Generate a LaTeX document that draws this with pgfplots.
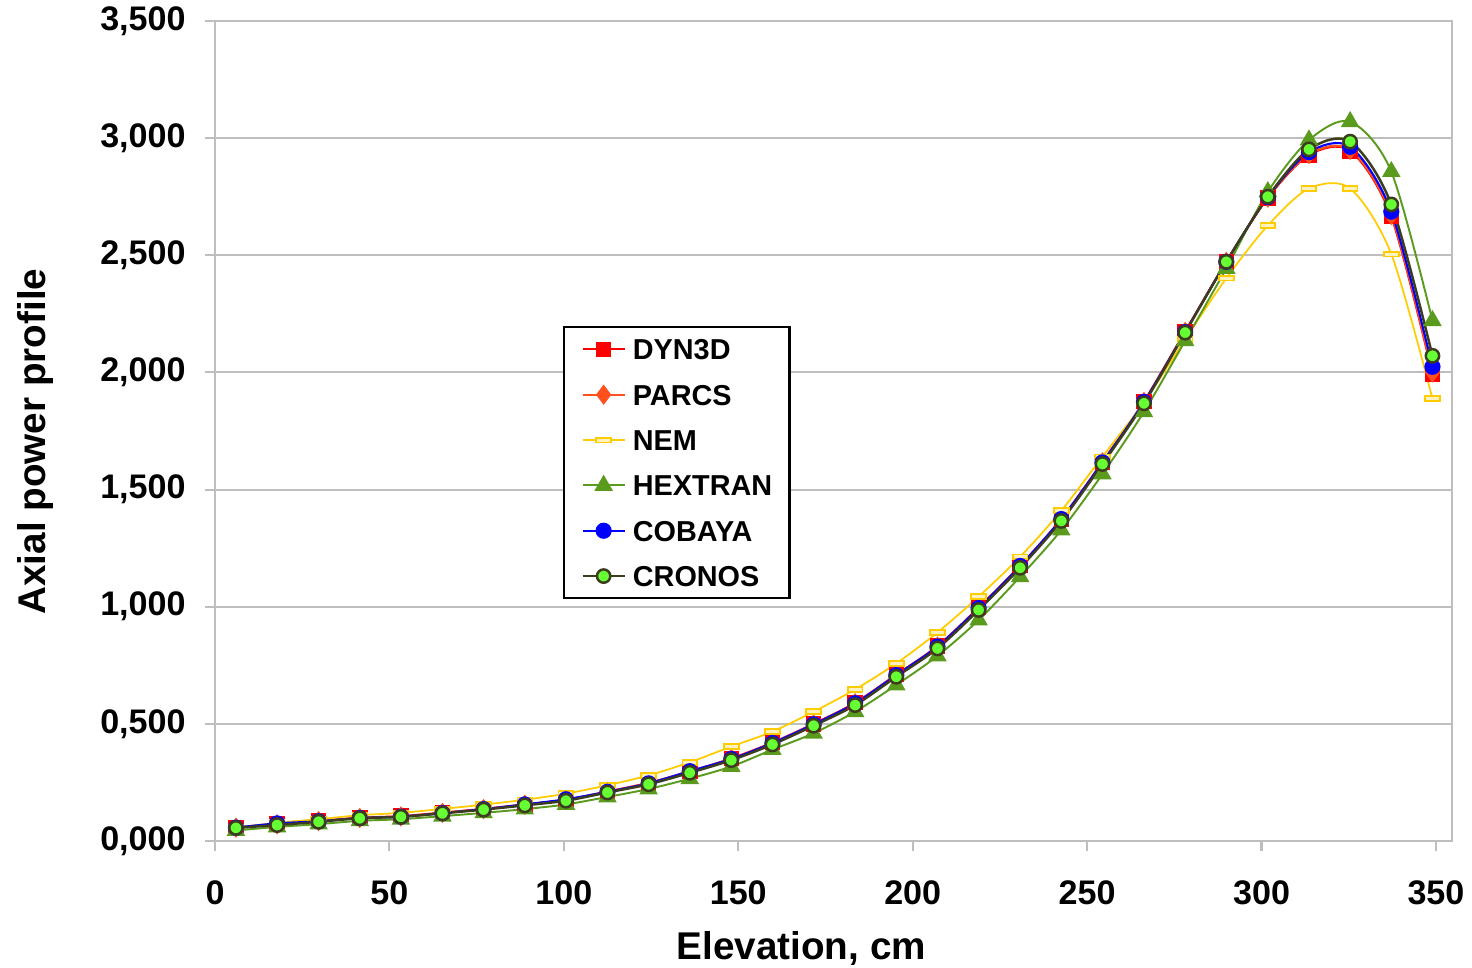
\documentclass[border=0pt]{standalone}
\usepackage{fontspec}
\setmainfont{Liberation Sans}
\usepackage{pgfplots}
\usepackage{pgfplotstable}
\pgfplotsset{compat=1.18}

\definecolor{cDYN}{RGB}{255,0,0}
\definecolor{cPAR}{RGB}{255,80,30}
\definecolor{cNEM}{RGB}{255,204,0}
\definecolor{cNEMf}{RGB}{255,242,190}
\definecolor{cHEX}{RGB}{90,155,30}
\definecolor{cCOB}{RGB}{0,0,255}
\definecolor{cCRO}{RGB}{60,60,30}
\definecolor{cCROf}{RGB}{102,255,51}
\definecolor{gridgray}{RGB}{190,190,190}

% x = elevation (cm); D=DYN3D P=PARCS N=NEM H=HEXTRAN B=COBAYA C=CRONOS
\pgfplotstableread{
x     D     P     N     H     B     C
6.0   0.058 0.057 0.057 0.045 0.057 0.056
17.8  0.072 0.071 0.078 0.060 0.075 0.068
29.7  0.086 0.085 0.093 0.072 0.084 0.082
41.5  0.099 0.098 0.110 0.086 0.098 0.097
53.3  0.106 0.105 0.120 0.093 0.104 0.103
65.2  0.121 0.120 0.137 0.106 0.119 0.118
77.0  0.137 0.136 0.155 0.120 0.136 0.134
88.8  0.156 0.155 0.176 0.136 0.156 0.152
100.6 0.176 0.175 0.202 0.156 0.178 0.172
112.5 0.211 0.210 0.238 0.188 0.210 0.207
124.3 0.248 0.247 0.280 0.222 0.246 0.242
136.1 0.297 0.296 0.336 0.266 0.298 0.291
148.0 0.352 0.351 0.403 0.318 0.350 0.345
159.8 0.420 0.418 0.467 0.390 0.418 0.412
171.6 0.500 0.498 0.552 0.460 0.498 0.492
183.5 0.590 0.588 0.647 0.552 0.588 0.580
195.3 0.710 0.708 0.758 0.666 0.708 0.701
207.1 0.832 0.830 0.890 0.790 0.830 0.822
218.9 0.996 0.994 1.043 0.943 0.994 0.986
230.8 1.175 1.173 1.213 1.128 1.174 1.166
242.6 1.375 1.373 1.410 1.327 1.374 1.366
254.4 1.618 1.616 1.640 1.566 1.616 1.609
266.3 1.876 1.874 1.872 1.832 1.874 1.868
278.1 2.175 2.173 2.141 2.135 2.172 2.170
289.9 2.472 2.472 2.402 2.444 2.472 2.472
301.8 2.745 2.746 2.627 2.771 2.748 2.750
313.6 2.928 2.932 2.785 2.992 2.940 2.952
325.4 2.946 2.950 2.785 3.070 2.963 2.985
337.2 2.665 2.672 2.505 2.857 2.686 2.717
349.0 1.993 2.000 1.888 2.221 2.024 2.071
}\data

\begin{document}
\begin{tikzpicture}
\path[use as bounding box] (-2.15cm,-1.27cm) rectangle (12.57cm,8.41cm);
\begin{axis}[
    scale only axis,
    width=12.37cm,
    height=8.2cm,
    xmin=0, xmax=354.6,
    ymin=0, ymax=3.5,
    xtick={0,50,...,350},
    ytick={0,0.5,...,3.5},
    tick pos=left,
    tick align=outside,
    major tick length=0.1cm,
    axis line style={gridgray, line width=0.6pt},
    major tick style={gridgray, line width=0.6pt},
    ymajorgrids,
    grid style={gridgray, line width=0.6pt},
    /pgf/number format/assume math mode=true,
    ticklabel style={font=\bfseries\fontsize{9.7}{11}\selectfont},
    yticklabel style={xshift=-0.07cm, /pgf/number format/.cd, fixed, fixed zerofill, precision=3, use comma},
    xticklabel style={yshift=-0.17cm, /pgf/number format/1000 sep={}},
    xlabel={Elevation, cm},
    ylabel={Axial power profile},
    every axis x label/.style={at={(axis description cs:0.474,-0.131)}, anchor=center,
        font=\bfseries\fontsize{11}{13}\selectfont},
    every axis y label/.style={at={(axis description cs:-0.145,0.487)}, rotate=90, anchor=center,
        font=\bfseries\fontsize{11}{13}\selectfont},
    legend style={at={(0.2813,0.628)}, anchor=north west, draw=black, line width=0.7pt,
        font=\bfseries\fontsize{8.2}{10}\selectfont, row sep=5.9pt, inner xsep=4.9pt, inner ysep=2.8pt,
        nodes={inner ysep=0pt, text height=6.5pt, text depth=0.5pt}},
    legend cell align=left,
    legend image code/.code={\draw[mark repeat=2, mark phase=2] plot coordinates {(0cm,0cm) (0.21cm,0cm) (0.42cm,0cm)};},
]
\addplot[cDYN, line width=0.6pt, smooth, mark=square*, mark size=1.9pt, mark options={solid, fill=cDYN}] table[x=x, y=D] {\data};
\addlegendentry{DYN3D}
\addplot[cPAR, line width=0.6pt, smooth, mark=diamond*, mark size=2.4pt, mark options={solid, fill=cPAR}] table[x=x, y=P] {\data};
\addlegendentry{PARCS}
\addplot[cNEM, line width=0.5pt, smooth, mark=square*, mark size=2.1pt, mark options={solid, fill=cNEMf, draw=cNEM, yscale=0.32}] table[x=x, y=N] {\data};
\addlegendentry{NEM}
\addplot[cHEX, line width=0.55pt, smooth, mark=triangle*, mark size=2.5pt, mark options={solid, fill=cHEX}] table[x=x, y=H] {\data};
\addlegendentry{HEXTRAN\hspace*{-2pt}}
\addplot[cCOB, line width=0.6pt, smooth, mark=*, mark size=2pt, mark options={solid, fill=cCOB}] table[x=x, y=B] {\data};
\addlegendentry{COBAYA}
\addplot[cCRO, line width=0.7pt, smooth, mark=*, mark size=1.9pt, mark options={solid, fill=cCROf, draw=cCRO}] table[x=x, y=C] {\data};
\addlegendentry{CRONOS}
\end{axis}
\end{tikzpicture}
\end{document}
